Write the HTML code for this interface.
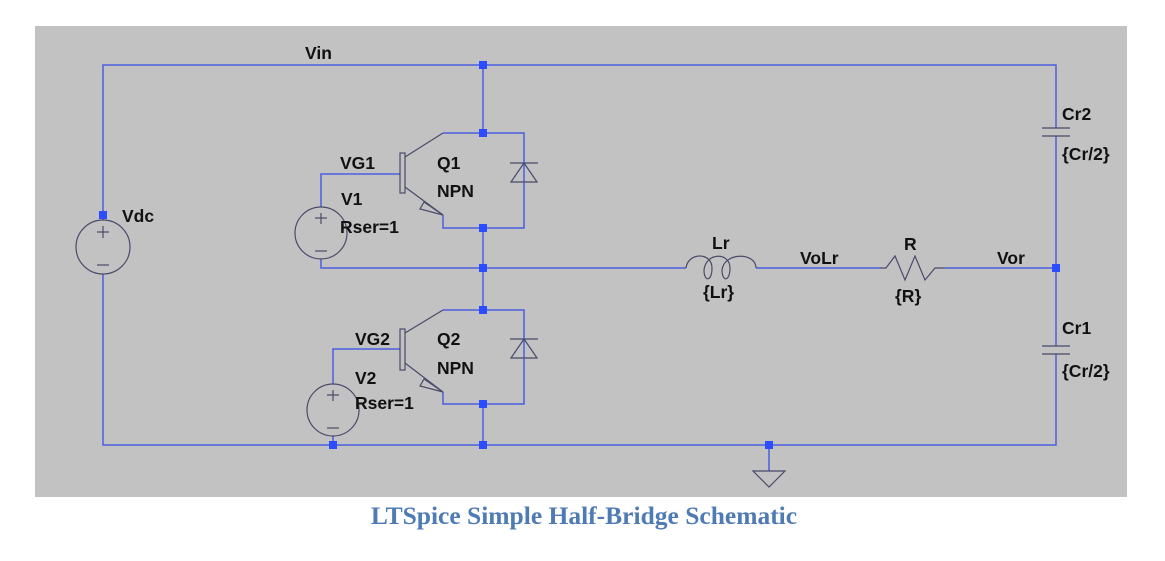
<!DOCTYPE html>
<html><head><meta charset="utf-8"><style>
html,body{margin:0;padding:0;background:#fff;}
body{width:1165px;height:561px;overflow:hidden;position:relative;}
svg{position:absolute;left:0;top:0;}
text{font-family:"Liberation Sans",sans-serif;font-weight:bold;font-size:17.5px;fill:#111;}
.cap{font-family:"Liberation Serif",serif;font-size:25.5px;fill:#4f7bb5;}
</style></head><body>
<svg width="1165" height="561" viewBox="0 0 1165 561">
<rect x="35" y="26" width="1092" height="471" fill="#c2c2c2"/>
<g stroke="#4a5ee0" stroke-width="1.5" fill="none">
<polyline points="103,220 103,65 1056,65 1056,128"/>
<polyline points="1056,136 1056,346"/>
<polyline points="1056,354 1056,445 103,445 103,274"/>
<line x1="769" y1="445" x2="769" y2="471"/>
<line x1="483" y1="65" x2="483" y2="133"/>
<polyline points="443,133 524,133 524,228 443,228 443,215"/>
<line x1="483" y1="228" x2="483" y2="310"/>
<polyline points="443,310 524,310 524,404 443,404 443,392"/>
<line x1="483" y1="404" x2="483" y2="445"/>
<line x1="483" y1="268" x2="686" y2="268"/>
<line x1="756" y1="268" x2="880" y2="268"/>
<line x1="945" y1="268" x2="1056" y2="268"/>
<polyline points="400,174 321,174 321,207"/>
<polyline points="321,259 321,268 483,268"/>
<polyline points="400,349 333,349 333,384"/>
<line x1="333" y1="436" x2="333" y2="445"/>
</g>
<g stroke="#4a4a6a" stroke-width="1.2" fill="none">
<rect x="400" y="153" width="5" height="40"/>
<polyline points="405,157 443,133"/>
<polyline points="405,187 443,215"/>
<polygon points="443,215 420,209 424,202"/>
<rect x="400" y="329" width="5" height="41"/>
<polyline points="405,333 443,310"/>
<polyline points="405,363 443,392"/>
<polygon points="443,392 420,386 424,379"/>
<line x1="510" y1="163" x2="538" y2="163"/><polygon points="524,163 511,182 537,182"/>
<line x1="510" y1="339" x2="538" y2="339"/><polygon points="524,339 511,358 537,358"/>
<circle cx="103" cy="247" r="27"/><line x1="103" y1="226" x2="103" y2="238"/><line x1="97" y1="232" x2="109" y2="232"/><line x1="97" y1="265" x2="109" y2="265"/>
<circle cx="321" cy="233" r="26"/><line x1="321" y1="213" x2="321" y2="224"/><line x1="315" y1="218" x2="327" y2="218"/><line x1="315" y1="251" x2="327" y2="251"/>
<circle cx="333" cy="410" r="26"/><line x1="333" y1="390" x2="333" y2="401"/><line x1="327" y1="395" x2="339" y2="395"/><line x1="327" y1="428" x2="339" y2="428"/>
<line x1="1042" y1="128" x2="1070" y2="128"/><line x1="1042" y1="136" x2="1070" y2="136"/>
<line x1="1042" y1="346" x2="1070" y2="346"/><line x1="1042" y1="354" x2="1070" y2="354"/>
<path d="M686,268 C688,252 712,252 712,268 C712,282 704,282 704,270 C706,252 730,252 730,268 C730,282 722,282 722,270 C724,252 756,252 756,268"/>
<polyline points="880,268 886,268 895,256 905,280 915,256 925,280 935,268 945,268"/>
<polygon points="753,471 785,471 769,487"/>
</g>
<g fill="#2b4cff">
<rect x="99" y="211" width="8" height="8"/>
<rect x="479" y="61" width="8" height="8"/>
<rect x="479" y="129" width="8" height="8"/>
<rect x="479" y="224" width="8" height="8"/>
<rect x="479" y="264" width="8" height="8"/>
<rect x="479" y="306" width="8" height="8"/>
<rect x="479" y="400" width="8" height="8"/>
<rect x="479" y="441" width="8" height="8"/>
<rect x="329" y="441" width="8" height="8"/>
<rect x="765" y="441" width="8" height="8"/>
<rect x="1052" y="264" width="8" height="8"/>
</g>
<text x="305" y="59">Vin</text>
<text x="122" y="222">Vdc</text>
<text x="340" y="169">VG1</text>
<text x="437" y="169">Q1</text>
<text x="437" y="197">NPN</text>
<text x="341" y="205">V1</text>
<text x="340" y="233">Rser=1</text>
<text x="355" y="345">VG2</text>
<text x="437" y="345">Q2</text>
<text x="437" y="374">NPN</text>
<text x="355" y="384">V2</text>
<text x="355" y="409">Rser=1</text>
<text x="712" y="249">Lr</text>
<text x="703" y="298">{Lr}</text>
<text x="800" y="264">VoLr</text>
<text x="904" y="250">R</text>
<text x="895" y="302">{R}</text>
<text x="997" y="264">Vor</text>
<text x="1062" y="120">Cr2</text>
<text x="1062" y="160">{Cr/2}</text>
<text x="1062" y="334">Cr1</text>
<text x="1062" y="377">{Cr/2}</text>
<text class="cap" x="584" y="524" text-anchor="middle">LTSpice Simple Half-Bridge Schematic</text>
</svg>
</body></html>
